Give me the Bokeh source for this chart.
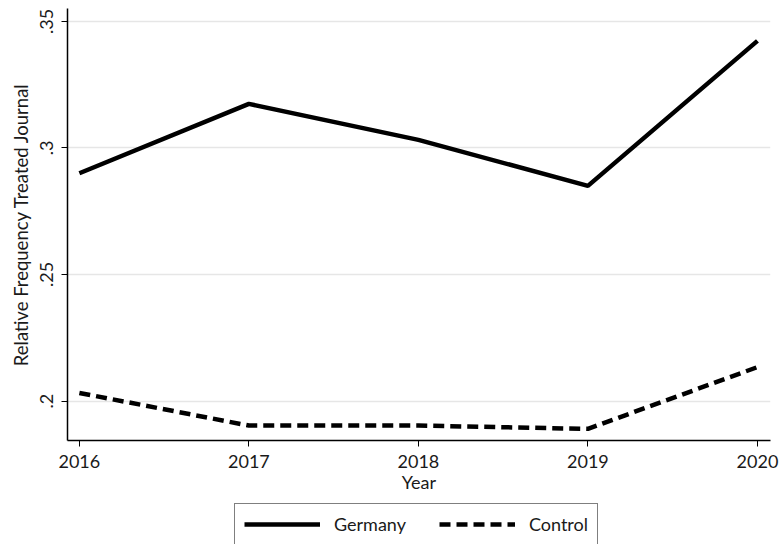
from bokeh.plotting import figure
from bokeh.layouts import column
from bokeh.models import FixedTicker, Legend, LegendItem, Range1d
from bokeh.embed import file_html
from bokeh.resources import INLINE

years = [2016, 2017, 2018, 2019, 2020]
germany = [0.290, 0.3174, 0.3032, 0.285, 0.3423]
control = [0.2032, 0.1903, 0.1903, 0.189, 0.2134]
y_ticks = [0.2, 0.25, 0.3, 0.35]
y_tick_labels = [".2", ".25", ".3", ".35"]
series_names = ["Germany", "Control"]

FONT = "Lato"
TEXT = "#1a1a1a"
LINE_W = 4.5
DASH = "11 6"

p = figure(
    width=780, height=500,
    output_backend="svg", toolbar_location=None,
    x_range=Range1d(2015.93, 2020.077),
    y_range=Range1d(0.1844, 0.3551),
    min_border_left=67, min_border_right=10,
    min_border_top=8, min_border_bottom=60,
)
p.outline_line_color = None
p.background_fill_color = "white"
p.border_fill_color = "white"

p.line(years, germany, line_color="black", line_width=LINE_W)
p.line(years, control, line_color="black", line_width=LINE_W, line_dash=DASH)

# axes
p.xaxis.ticker = FixedTicker(ticks=years)
p.xaxis.minor_tick_line_color = None
p.xaxis.major_tick_in = 0
p.xaxis.major_tick_out = 6
p.xaxis.axis_label = "Year"
p.xaxis.axis_label_standoff = 0
p.xaxis.axis_label_text_font = FONT
p.xaxis.axis_label_text_font_style = "normal"
p.xaxis.axis_label_text_font_size = "18px"
p.xaxis.major_label_text_font = FONT
p.xaxis.major_label_text_font_size = "18px"
p.xaxis.major_label_standoff = 8

p.yaxis.ticker = FixedTicker(ticks=y_ticks)
p.yaxis.major_label_overrides = dict(zip(y_ticks, y_tick_labels))
p.yaxis.major_label_orientation = "vertical"
p.yaxis.minor_tick_line_color = None
p.yaxis.major_tick_in = 0
p.yaxis.major_tick_out = 6
p.yaxis.axis_label = "Relative Frequency Treated Journal"
p.yaxis.axis_label_standoff = 6
p.yaxis.axis_label_text_font = FONT
p.yaxis.axis_label_text_font_style = "normal"
p.yaxis.axis_label_text_font_size = "18.5px"
p.yaxis.major_label_text_font = FONT
p.yaxis.major_label_text_font_size = "18px"
p.yaxis.major_label_standoff = 8

for ax in (p.xaxis, p.yaxis):
    ax.axis_line_color = "black"
    ax.axis_line_width = 1.5
    ax.major_tick_line_color = "black"
    ax.major_label_text_color = TEXT
    ax.axis_label_text_color = TEXT

p.xgrid.grid_line_color = None
p.ygrid.grid_line_color = "#e6e6e6"
p.ygrid.grid_line_width = 1.5

# legend strip underneath the chart; its series lie outside its own ranges,
# so only the legend box shows
leg = figure(
    width=780, height=44,
    output_backend="svg", toolbar_location=None,
    x_range=Range1d(0, 1), y_range=Range1d(0, 1),
    min_border=0,
)
leg.axis.visible = False
leg.grid.visible = False
leg.outline_line_color = None
leg.background_fill_color = "white"
leg.border_fill_color = "white"

k_de = leg.line(years, germany, line_color="black", line_width=LINE_W)
k_ct = leg.line(years, control, line_color="black", line_width=LINE_W, line_dash=DASH)

legend = Legend(
    items=[LegendItem(label=series_names[0], renderers=[k_de]),
           LegendItem(label=series_names[1], renderers=[k_ct])],
    orientation="horizontal",
    location=(167, -1),
    glyph_width=76, glyph_height=20,
    label_standoff=14, spacing=33, padding=9, margin=0,
    label_text_font=FONT, label_text_font_size="18px",
    label_text_color=TEXT,
    border_line_color="black", border_line_width=1,
    background_fill_color="white", background_fill_alpha=1,
)
leg.add_layout(legend, "center")

layout = column(p, leg, spacing=0)
open("out.html", "w").write(file_html(layout, INLINE))
